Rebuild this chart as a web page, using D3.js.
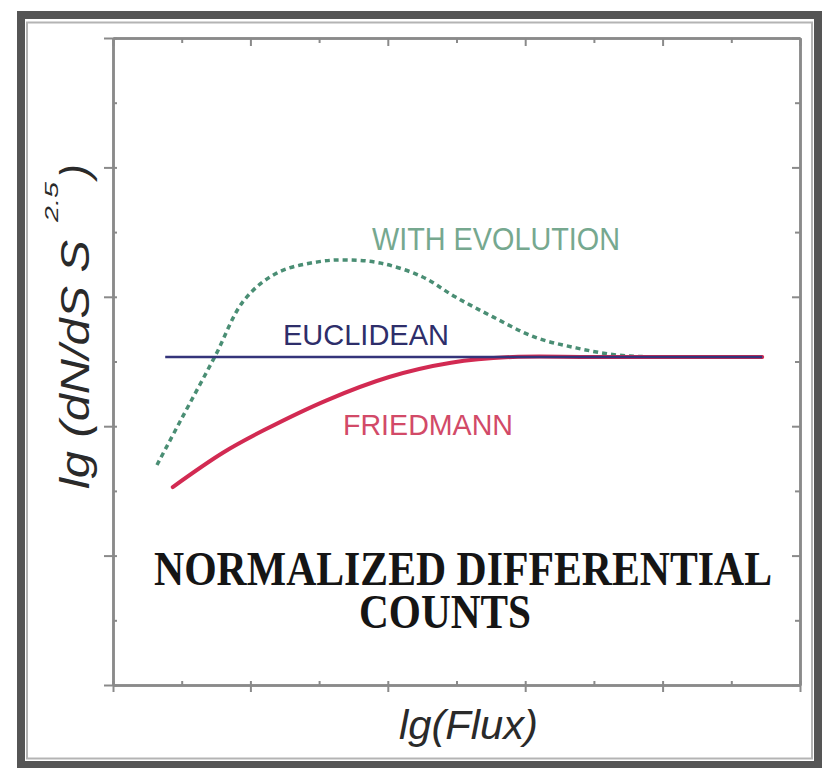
<!DOCTYPE html>
<html>
<head>
<meta charset="utf-8">
<script src="https://cdn.jsdelivr.net/npm/d3@7/dist/d3.min.js"></script>
<style>
  html, body { margin: 0; padding: 0; background: #fff; }
  svg { display: block; }
</style>
</head>
<body>
<svg id="chart" width="823" height="768"></svg>
<script>
// Normalized differential source counts, in arbitrary log units (0–10 on both axes)
const euclideanX = [0.76, 9.45];
const euclideanY = [5.07, 5.07];

const friedmannX = [0.87, 1.60, 2.20, 3.11, 4.02, 4.92, 5.82, 7.00, 9.45];
const friedmannY = [3.06, 3.59, 3.94, 4.40, 4.76, 4.98, 5.07, 5.07, 5.07];

const evolutionX = [0.64, 0.99, 1.48, 1.91, 2.39, 2.98, 3.41, 3.90, 4.50, 4.98, 5.53, 6.13, 6.74, 7.34, 7.96, 9.45];
const evolutionY = [3.40, 4.10, 5.07, 5.95, 6.37, 6.54, 6.57, 6.52, 6.31, 6.00, 5.69, 5.38, 5.21, 5.10, 5.07, 5.07];

const majorTicks = [0, 2, 4, 6, 8, 10];
const minorTicks = [1, 3, 5, 7, 9];
const allTicks = [0, 1, 2, 3, 4, 5, 6, 7, 8, 9, 10];

const seriesLabels = ["WITH EVOLUTION", "EUCLIDEAN", "FRIEDMANN"];
const titleLines = ["NORMALIZED DIFFERENTIAL", "COUNTS"];

const svg = d3.select("#chart");
const sans = "'Liberation Sans', Arial, Helvetica, sans-serif";
const serif = "'Liberation Serif', 'Times New Roman', Times, serif";

// Plot box
const plotLeft = 113, plotRight = 800, plotTop = 38, plotBottom = 685;
const x = d3.scaleLinear().domain([0, 10]).range([plotLeft, plotRight]);
const y = d3.scaleLinear().domain([0, 10]).range([plotBottom, plotTop]);

// Outer picture frame
svg.append("rect")
  .attr("x", 21).attr("y", 15).attr("width", 797).attr("height", 750)
  .attr("fill", "none").attr("stroke", "#555").attr("stroke-width", 8);
svg.append("rect")
  .attr("x", 27).attr("y", 22.5).attr("width", 785).attr("height", 736)
  .attr("fill", "none").attr("stroke", "#b4b4b4").attr("stroke-width", 2);

// Axes on all four sides, tick marks only
const axisColor = "#8a8a8a";
function styleAxis(g) {
  g.selectAll("path.domain").attr("stroke", axisColor).attr("stroke-width", 2.5);
  g.selectAll(".tick line").attr("stroke", axisColor).attr("stroke-width", 2);
}
function addAxis(gen, tx, ty, ticks, size) {
  const g = svg.append("g").attr("transform", `translate(${tx},${ty})`)
    .call(gen.tickValues(ticks).tickSize(size).tickSizeOuter(0).tickFormat(""));
  styleAxis(g);
  return g;
}
addAxis(d3.axisBottom(x), 0, plotBottom, majorTicks, 7);
addAxis(d3.axisBottom(x), 0, plotBottom, allTicks, -4);
addAxis(d3.axisTop(x), 0, plotTop, majorTicks, -8);
addAxis(d3.axisTop(x), 0, plotTop, minorTicks, -5);
addAxis(d3.axisLeft(y), plotLeft, 0, majorTicks, 9);
addAxis(d3.axisLeft(y), plotLeft, 0, allTicks, -4);
addAxis(d3.axisRight(y), plotRight, 0, majorTicks, -8);
addAxis(d3.axisRight(y), plotRight, 0, minorTicks, -5);

// Curves
const line = d3.line()
  .x(d => x(d[0])).y(d => y(d[1]))
  .curve(d3.curveCatmullRom.alpha(0.5));

svg.append("path")
  .datum(d3.zip(evolutionX, evolutionY))
  .attr("d", line)
  .attr("fill", "none").attr("stroke", "#4a8e74")
  .attr("stroke-width", 3.5).attr("stroke-dasharray", "5 4");

svg.append("path")
  .datum(d3.zip(friedmannX, friedmannY))
  .attr("d", line)
  .attr("fill", "none").attr("stroke", "#d22a52")
  .attr("stroke-width", 4).attr("stroke-linecap", "round");

svg.append("path")
  .datum(d3.zip(euclideanX, euclideanY))
  .attr("d", line)
  .attr("fill", "none").attr("stroke", "#34347a")
  .attr("stroke-width", 2.5);

// Curve labels
const labelSpec = [
  { text: seriesLabels[0], x: 372, y: 250, len: 248, size: 31, color: "#76a88f" },
  { text: seriesLabels[1], x: 283, y: 345, len: 166, size: 30, color: "#2e2e6a" },
  { text: seriesLabels[2], x: 343, y: 435, len: 170, size: 30, color: "#d24a68" }
];
svg.selectAll("text.series")
  .data(labelSpec)
  .join("text")
  .attr("class", "series")
  .attr("x", d => d.x).attr("y", d => d.y)
  .attr("textLength", d => d.len).attr("lengthAdjust", "spacingAndGlyphs")
  .attr("font-family", sans).attr("font-size", d => d.size)
  .attr("fill", d => d.color)
  .text(d => d.text);

// Title inside the plot
svg.append("text")
  .attr("x", 154).attr("y", 585)
  .attr("textLength", 618).attr("lengthAdjust", "spacingAndGlyphs")
  .attr("font-family", serif).attr("font-weight", "bold").attr("font-size", 48)
  .attr("fill", "#151515")
  .text(titleLines[0]);
svg.append("text")
  .attr("x", 359).attr("y", 628)
  .attr("textLength", 172).attr("lengthAdjust", "spacingAndGlyphs")
  .attr("font-family", serif).attr("font-weight", "bold").attr("font-size", 48)
  .attr("fill", "#151515")
  .text(titleLines[1]);

// Axis titles
svg.append("text")
  .attr("x", 399).attr("y", 739)
  .attr("textLength", 139).attr("lengthAdjust", "spacingAndGlyphs")
  .attr("font-family", sans).attr("font-style", "italic").attr("font-size", 40)
  .attr("fill", "#2a2a2a")
  .text("lg(Flux)");

const yTitle = svg.append("g").attr("transform", "translate(89,0) rotate(-90)")
  .attr("font-family", sans).attr("font-style", "italic").attr("fill", "#2a2a2a");
yTitle.append("text")
  .attr("x", -489).attr("y", 0)
  .attr("textLength", 249).attr("lengthAdjust", "spacingAndGlyphs")
  .attr("font-size", 41)
  .text("lg (dN/dS S");
yTitle.append("text")
  .attr("x", -222).attr("y", -31)
  .attr("textLength", 40).attr("lengthAdjust", "spacingAndGlyphs")
  .attr("font-size", 19)
  .text("2.5");
yTitle.append("text")
  .attr("x", -178).attr("y", 0)
  .attr("font-size", 41)
  .text(")");
</script>
</body>
</html>
